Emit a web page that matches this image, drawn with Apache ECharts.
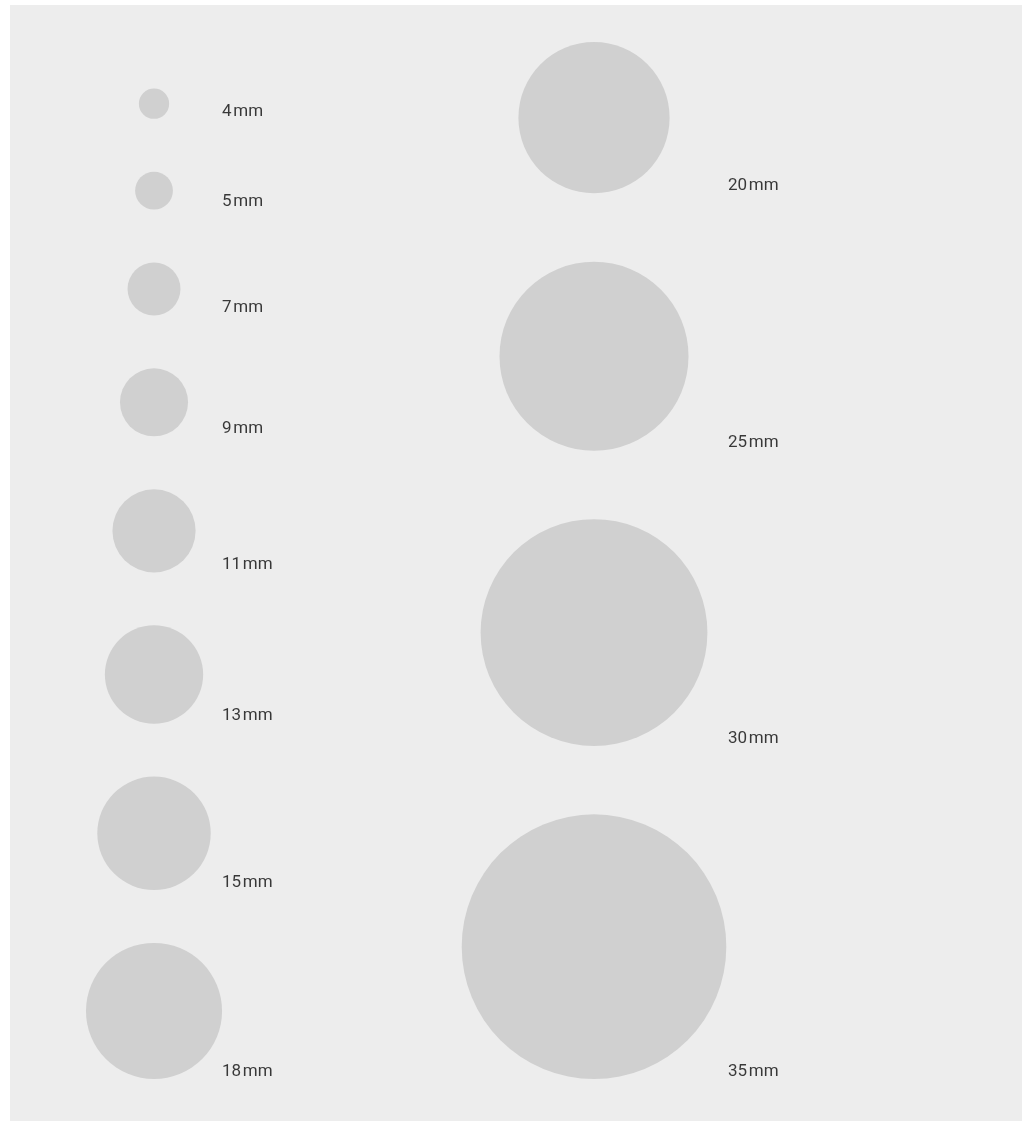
<!DOCTYPE html>
<html>
<head>
<meta charset="utf-8">
<title>Circle sizes</title>
<script src="https://cdn.jsdelivr.net/npm/echarts@6/dist/echarts.min.js"></script>
<style>
  html, body { margin: 0; padding: 0; background: #ffffff; }
  #chart { width: 1028px; height: 1126px; }
</style>
</head>
<body>
<div id="chart"></div>
<script>
// diameters in mm, one list per column
const leftSizes = [4, 5, 7, 9, 11, 13, 15, 18];
const rightSizes = [20, 25, 30, 35];
const unit = 'mm';

// layout, all in mm (the axes are scaled in mm)
const PX_PER_MM = 7.56;
const GRID = { left: 10, top: 5, width: 1012, height: 1116 };
const BOTTOM_MM = 142.06;       // common bottom line of both columns
const leftCol = { x: 19.05, labelX: 28.04, gap: 7.0 };
const rightCol = { x: 77.25, labelX: 94.97, gap: 9.05 };
const LABEL_UP = 1.0;           // label sits a little above the circle bottom

// stack circles upward from the bottom line, returns centre y for each
function stackColumn (sizes, gap) {
  const centers = []
  let bottom = BOTTOM_MM
  for (let i = sizes.length - 1; i >= 0; i--) {
    centers[i] = bottom - sizes[i] / 2
    bottom = bottom - sizes[i] - gap
  }
  return centers
}

function buildColumn (sizes, col) {
  const ys = stackColumn(sizes, col.gap)
  const circles = sizes.map((s, i) => [col.x, ys[i], s])
  const labels = sizes.map((s, i) => ({
    value: [col.labelX, ys[i] + s / 2 - LABEL_UP],
    name: s + '\u200A' + unit
  }))
  return { circles, labels }
}

const left = buildColumn(leftSizes, leftCol)
const right = buildColumn(rightSizes, rightCol)

const chart = echarts.init(document.getElementById('chart'), null, { renderer: 'canvas' })

const option = {
  animation: false,
  backgroundColor: '#ffffff',
  grid: {
    left: GRID.left,
    top: GRID.top,
    width: GRID.width,
    height: GRID.height,
    show: true,
    backgroundColor: '#ededed',
    borderWidth: 0
  },
  xAxis: {
    type: 'value',
    min: 0,
    max: GRID.width / PX_PER_MM,
    show: false
  },
  yAxis: {
    type: 'value',
    inverse: true,
    min: 0,
    max: GRID.height / PX_PER_MM,
    show: false
  },
  series: [
    {
      type: 'scatter',
      silent: true,
      data: left.circles.concat(right.circles),
      // diameter in px from mm, same scale as the axes
      symbolSize: (val) => val[2] * PX_PER_MM,
      itemStyle: { color: '#d0d0d0', opacity: 1 }
    },
    {
      type: 'scatter',
      silent: true,
      data: left.labels.concat(right.labels),
      symbolSize: 0,
      label: {
        show: true,
        position: 'right',
        distance: 0,
        formatter: (p) => p.name,
        color: '#0a0a0a',
        fontFamily: 'Roboto',
        fontSize: 17
      }
    }
  ]
}

chart.setOption(option)
</script>
</body>
</html>
